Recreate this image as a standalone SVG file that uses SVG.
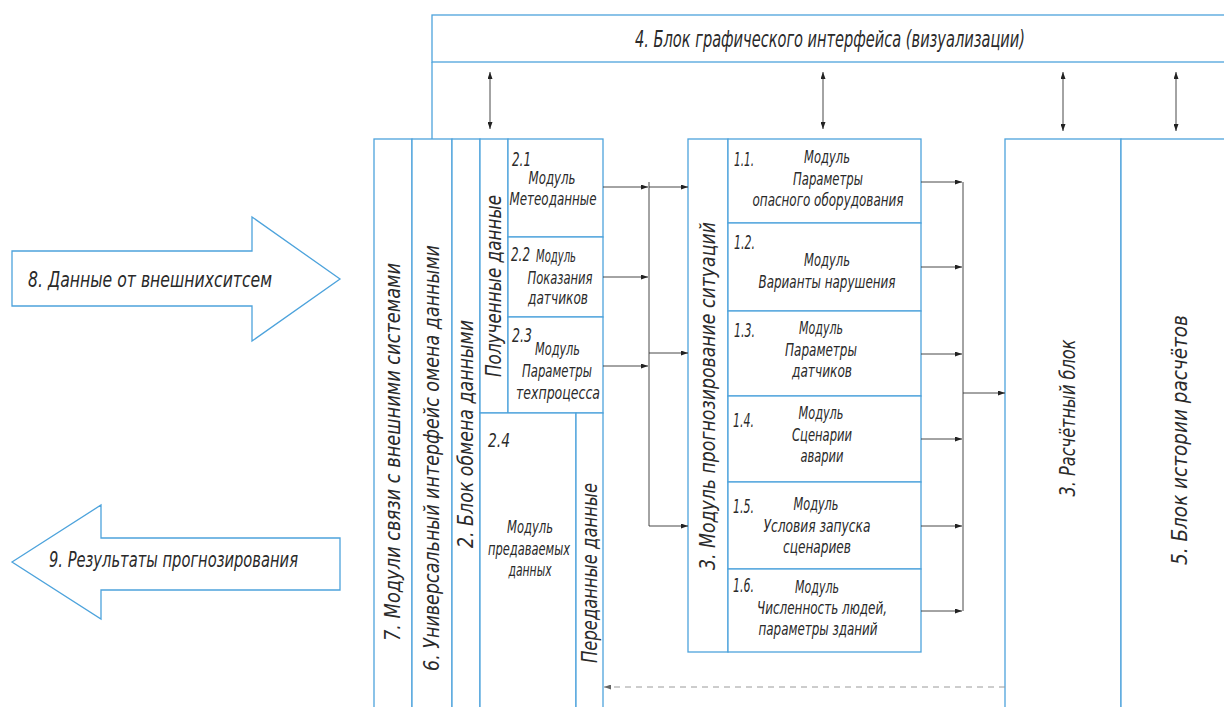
<svg xmlns="http://www.w3.org/2000/svg" width="1224" height="707" viewBox="0 0 1224 707">
<style>
  .box { fill: #ffffff; stroke: #4da3dc; stroke-width: 1.3; }
  .ln { fill: none; stroke: #4da3dc; stroke-width: 1.3; }
  .c { fill: none; stroke: #333333; stroke-width: 0.9; }
  .cd { fill: none; stroke: #9a9a9a; stroke-width: 1; stroke-dasharray: 6 5; }
  .t { font-family: "DejaVu Sans Condensed", "Liberation Sans Narrow", "Liberation Sans", sans-serif; font-style: italic; fill: #2a2a2a; }
  .m { font-size: 17px; }
  .n { font-size: 19px; }
  .v { font-size: 21px; }
  .mid { text-anchor: middle; }
</style>
<defs>
  <marker id="ah" markerUnits="userSpaceOnUse" markerWidth="7" markerHeight="5" refX="7" refY="2.5" orient="auto-start-reverse">
    <path d="M0,0 L7,2.5 L0,5 z" fill="#222"/>
  </marker>
  <marker id="ahg" markerUnits="userSpaceOnUse" markerWidth="7" markerHeight="5" refX="7" refY="2.5" orient="auto">
    <path d="M0,0 L7,2.5 L0,5 z" fill="#666"/>
  </marker>
</defs>
<rect width="1224" height="707" fill="#ffffff"/>

<!-- 4. Graphic interface block -->
<g id="block4">
  <rect class="box" x="432" y="15" width="800" height="47"/>
  <line class="ln" x1="432" y1="62" x2="432" y2="139"/>
  <text class="t mid" x="830" y="47" font-size="23" textLength="390" lengthAdjust="spacingAndGlyphs">4. Блок графического интерфейса (визуализации)</text>
</g>

<!-- 8. Input arrow -->
<g id="arrow8">
  <path class="box" d="M12,251 L252,251 L252,217 L340,279 L252,341 L252,306 L12,306 Z"/>
  <text class="t" x="28" y="287" font-size="21" textLength="244" lengthAdjust="spacingAndGlyphs">8. Данные от внешнихситсем</text>
</g>

<!-- 9. Output arrow -->
<g id="arrow9">
  <path class="box" d="M12,562 L101,505 L101,538 L340,538 L340,590 L101,590 L101,619 Z"/>
  <text class="t" x="49" y="567" font-size="21" textLength="249" lengthAdjust="spacingAndGlyphs">9. Результаты прогнозирования</text>
</g>

<!-- 7. Communication modules -->
<g id="col7">
  <rect class="box" x="374" y="139" width="38" height="580"/>
  <text class="t v mid" transform="translate(400,452) rotate(-90)" textLength="378" lengthAdjust="spacingAndGlyphs">7. Модули связи с внешними системами</text>
</g>

<!-- 6. Universal interface -->
<g id="col6">
  <rect class="box" x="412" y="139" width="40" height="580"/>
  <text class="t v mid" transform="translate(439,458) rotate(-90)" textLength="426" lengthAdjust="spacingAndGlyphs">6. Универсальный интерфейс омена данными</text>
</g>

<!-- 2. Data exchange block -->
<g id="col2">
  <rect class="box" x="452" y="139" width="28" height="580"/>
  <text class="t v mid" transform="translate(473,434) rotate(-90)" textLength="228" lengthAdjust="spacingAndGlyphs">2. Блок обмена данными</text>
</g>

<!-- Received data -->
<g id="received">
  <rect class="box" x="480" y="139" width="28" height="274"/>
  <text class="t v mid" transform="translate(501,286) rotate(-90)" textLength="182" lengthAdjust="spacingAndGlyphs">Полученные данные</text>
</g>

<g id="m21">
  <rect class="box" x="508" y="139" width="95" height="98"/>
  <text class="t n" x="512" y="166" textLength="19" lengthAdjust="spacingAndGlyphs">2.1</text>
  <text class="t m mid" x="552" y="184" textLength="47" lengthAdjust="spacingAndGlyphs">Модуль</text>
  <text class="t m mid" x="553" y="205" textLength="87" lengthAdjust="spacingAndGlyphs">Метеоданные</text>
</g>

<g id="m22">
  <rect class="box" x="508" y="237" width="95" height="80"/>
  <text class="t n" x="511" y="261" textLength="19" lengthAdjust="spacingAndGlyphs">2.2</text>
  <text class="t m" x="536" y="262" textLength="40" lengthAdjust="spacingAndGlyphs">Модуль</text>
  <text class="t m mid" x="560" y="284" textLength="65" lengthAdjust="spacingAndGlyphs">Показания</text>
  <text class="t m mid" x="558" y="304" textLength="60" lengthAdjust="spacingAndGlyphs">датчиков</text>
</g>

<g id="m23">
  <rect class="box" x="508" y="317" width="95" height="96"/>
  <text class="t n" x="512" y="342" textLength="20" lengthAdjust="spacingAndGlyphs">2.3</text>
  <text class="t m" x="535" y="355" textLength="45" lengthAdjust="spacingAndGlyphs">Модуль</text>
  <text class="t m mid" x="557" y="377" textLength="70" lengthAdjust="spacingAndGlyphs">Параметры</text>
  <text class="t m mid" x="558" y="399" textLength="84" lengthAdjust="spacingAndGlyphs">техпроцесса</text>
</g>

<g id="m24">
  <rect class="box" x="480" y="413" width="96" height="306"/>
  <text class="t n" x="488" y="447" textLength="22" lengthAdjust="spacingAndGlyphs">2.4</text>
  <text class="t m mid" x="530" y="533" textLength="46" lengthAdjust="spacingAndGlyphs">Модуль</text>
  <text class="t m mid" x="529" y="555" textLength="82" lengthAdjust="spacingAndGlyphs">предаваемых</text>
  <text class="t m mid" x="530" y="576" textLength="43" lengthAdjust="spacingAndGlyphs">данных</text>
</g>

<g id="sent">
  <rect class="box" x="576" y="413" width="27" height="306"/>
  <text class="t v mid" transform="translate(597,573) rotate(-90)" textLength="180" lengthAdjust="spacingAndGlyphs">Переданные данные</text>
</g>

<!-- 3. Situation forecasting module -->
<g id="mod3">
  <rect class="box" x="688" y="139" width="40" height="513"/>
  <text class="t v mid" transform="translate(715,396) rotate(-90)" textLength="348" lengthAdjust="spacingAndGlyphs">3. Модуль прогнозирование ситуаций</text>
</g>

<g id="m11">
  <rect class="box" x="728" y="139" width="193" height="84"/>
  <text class="t n" x="734" y="166" textLength="20" lengthAdjust="spacingAndGlyphs">1.1.</text>
  <text class="t m mid" x="827" y="163" textLength="46" lengthAdjust="spacingAndGlyphs">Модуль</text>
  <text class="t m mid" x="828" y="185" textLength="70" lengthAdjust="spacingAndGlyphs">Параметры</text>
  <text class="t m mid" x="828" y="206" textLength="151" lengthAdjust="spacingAndGlyphs">опасного оборудования</text>
</g>

<g id="m12">
  <rect class="box" x="728" y="223" width="193" height="88"/>
  <text class="t n" x="734" y="249" textLength="21" lengthAdjust="spacingAndGlyphs">1.2.</text>
  <text class="t m mid" x="827" y="266" textLength="46" lengthAdjust="spacingAndGlyphs">Модуль</text>
  <text class="t m mid" x="827" y="288" textLength="137" lengthAdjust="spacingAndGlyphs">Варианты нарушения</text>
</g>

<g id="m13">
  <rect class="box" x="728" y="311" width="193" height="85"/>
  <text class="t n" x="734" y="337" textLength="21" lengthAdjust="spacingAndGlyphs">1.3.</text>
  <text class="t m mid" x="821" y="334" textLength="44" lengthAdjust="spacingAndGlyphs">Модуль</text>
  <text class="t m mid" x="821" y="356" textLength="72" lengthAdjust="spacingAndGlyphs">Параметры</text>
  <text class="t m mid" x="822" y="377" textLength="60" lengthAdjust="spacingAndGlyphs">датчиков</text>
</g>

<g id="m14">
  <rect class="box" x="728" y="396" width="193" height="86"/>
  <text class="t n" x="733" y="427" textLength="21" lengthAdjust="spacingAndGlyphs">1.4.</text>
  <text class="t m mid" x="821" y="419" textLength="45" lengthAdjust="spacingAndGlyphs">Модуль</text>
  <text class="t m mid" x="822" y="441" textLength="60" lengthAdjust="spacingAndGlyphs">Сценарии</text>
  <text class="t m mid" x="822" y="462" textLength="43" lengthAdjust="spacingAndGlyphs">аварии</text>
</g>

<g id="m15">
  <rect class="box" x="728" y="482" width="193" height="87"/>
  <text class="t n" x="733" y="513" textLength="21" lengthAdjust="spacingAndGlyphs">1.5.</text>
  <text class="t m mid" x="816" y="510" textLength="45" lengthAdjust="spacingAndGlyphs">Модуль</text>
  <text class="t m mid" x="817" y="532" textLength="107" lengthAdjust="spacingAndGlyphs">Условия запуска</text>
  <text class="t m mid" x="817" y="553" textLength="68" lengthAdjust="spacingAndGlyphs">сценариев</text>
</g>

<g id="m16">
  <rect class="box" x="728" y="569" width="193" height="83"/>
  <text class="t n" x="733" y="592" textLength="21" lengthAdjust="spacingAndGlyphs">1.6.</text>
  <text class="t m mid" x="817" y="593" textLength="44" lengthAdjust="spacingAndGlyphs">Модуль</text>
  <text class="t m mid" x="822" y="614" textLength="130" lengthAdjust="spacingAndGlyphs">Численность людей,</text>
  <text class="t m mid" x="818" y="635" textLength="119" lengthAdjust="spacingAndGlyphs">параметры зданий</text>
</g>

<!-- 3. Calculation block -->
<g id="calc">
  <rect class="box" x="1005" y="139" width="116" height="580"/>
  <text class="t v mid" transform="translate(1075,418) rotate(-90)" textLength="157" lengthAdjust="spacingAndGlyphs">3. Расчётный блок</text>
</g>

<!-- 5. Calculation history block -->
<g id="hist">
  <rect class="box" x="1121" y="139" width="110" height="580"/>
  <text class="t v mid" transform="translate(1187,440) rotate(-90)" textLength="250" lengthAdjust="spacingAndGlyphs">5. Блок истории расчётов</text>
</g>

<!-- Connectors -->
<g id="connectors">
  <!-- interface links -->
  <line class="c" x1="490" y1="72" x2="490" y2="129" marker-start="url(#ah)" marker-end="url(#ah)"/>
  <line class="c" x1="823" y1="72" x2="823" y2="129" marker-start="url(#ah)" marker-end="url(#ah)"/>
  <line class="c" x1="1063" y1="72" x2="1063" y2="131" marker-start="url(#ah)" marker-end="url(#ah)"/>
  <line class="c" x1="1176" y1="72" x2="1176" y2="131" marker-start="url(#ah)" marker-end="url(#ah)"/>
  <!-- received data to bus -->
  <line class="c" x1="603" y1="187" x2="648" y2="187" marker-end="url(#ah)"/>
  <line class="c" x1="603" y1="277" x2="648" y2="277" marker-end="url(#ah)"/>
  <line class="c" x1="603" y1="366" x2="648" y2="366" marker-end="url(#ah)"/>
  <line class="c" x1="649" y1="182" x2="649" y2="526"/>
  <!-- bus to module 3 -->
  <line class="c" x1="649" y1="187" x2="688" y2="187" marker-end="url(#ah)"/>
  <line class="c" x1="649" y1="353" x2="688" y2="353" marker-end="url(#ah)"/>
  <line class="c" x1="649" y1="526" x2="688" y2="526" marker-end="url(#ah)"/>
  <!-- modules 1.x to right bus -->
  <line class="c" x1="921" y1="182" x2="962" y2="182" marker-end="url(#ah)"/>
  <line class="c" x1="921" y1="267" x2="962" y2="267" marker-end="url(#ah)"/>
  <line class="c" x1="921" y1="354" x2="962" y2="354" marker-end="url(#ah)"/>
  <line class="c" x1="921" y1="439" x2="962" y2="439" marker-end="url(#ah)"/>
  <line class="c" x1="921" y1="526" x2="962" y2="526" marker-end="url(#ah)"/>
  <line class="c" x1="921" y1="611" x2="962" y2="611" marker-end="url(#ah)"/>
  <line class="c" x1="963" y1="182" x2="963" y2="611"/>
  <line class="c" x1="963" y1="393" x2="1005" y2="393" marker-end="url(#ah)"/>
  <!-- results back to sent data -->
  <line class="cd" x1="1005" y1="687" x2="604" y2="687" marker-end="url(#ahg)"/>
</g>
</svg>
